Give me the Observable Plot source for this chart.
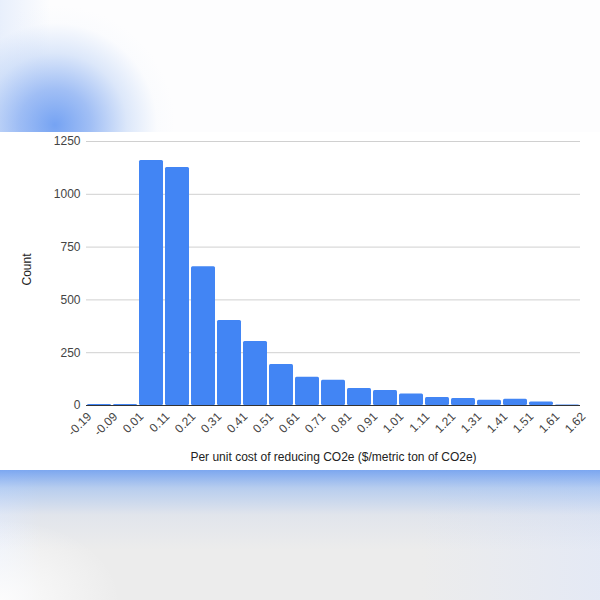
<!DOCTYPE html>
<html>
<head>
<meta charset="utf-8">
<script src="https://cdn.jsdelivr.net/npm/d3@7"></script>
<script src="https://cdn.jsdelivr.net/npm/@observablehq/plot@0.6"></script>
<style>
  html, body { margin: 0; padding: 0; }
  body { width: 600px; height: 600px; position: relative; overflow: hidden; background: #fff;
         font-family: "Liberation Sans", Arial, sans-serif; }
  #top { position: absolute; left: 0; top: 0; width: 600px; height: 132px;
    background:
      radial-gradient(ellipse 120px 120px at 55px 125px, rgba(110,158,242,0.95) 0%, rgba(130,170,242,0.75) 30%, rgba(180,205,245,0.45) 60%, rgba(235,242,252,0.15) 85%, rgba(255,255,255,0) 100%),
      linear-gradient(to right, rgba(215,228,250,0.55) 0px, rgba(255,255,255,0) 50px),
      #fdfdfe; }
  #bottom { position: absolute; left: 0; top: 470px; width: 600px; height: 130px;
    background:
      radial-gradient(ellipse 120px 80px at 0px 130px, rgba(252,252,252,1) 0%, rgba(252,252,252,0) 100%),
      linear-gradient(to bottom, rgba(105,155,240,0.85) 0px, rgba(140,180,240,0.55) 18px, rgba(200,212,235,0.3) 45px, rgba(230,230,232,0) 80px),
      linear-gradient(to right, rgba(235,240,250,0.9) 0px, rgba(235,240,250,0) 40px, rgba(235,240,250,0) 420px, rgba(225,232,248,0.7) 600px),
      #ececec; }
  #panel { position: absolute; left: 0; top: 132px; width: 600px; height: 338px; background: #fff; }
</style>
</head>
<body>
<div id="top"></div>
<div id="panel"></div>
<div id="bottom"></div>
<script>
// Bin lower-edge labels (20 edges for 19 bins)
const edgeLabels = ["-0.19","-0.09","0.01","0.11","0.21","0.31","0.41","0.51","0.61","0.71","0.81","0.91","1.01","1.11","1.21","1.31","1.41","1.51","1.61","1.62"];
// Count per bin
const counts = [5, 5, 1160, 1127, 657, 402, 303, 194, 134, 119, 81, 71, 55, 38, 33, 25, 30, 16, 2];
const yTicks = [0, 250, 500, 750, 1000, 1250];

const bins = counts.map((c, i) => ({x1: i, x2: i + 1, count: c}));

const chart = Plot.plot({
  width: 600,
  height: 338,
  marginTop: 9,
  marginBottom: 65,
  marginLeft: 86,
  marginRight: 20,
  style: {fontFamily: "'Liberation Sans', Arial, sans-serif", fontSize: "12px", color: "#444", background: "transparent"},
  x: {domain: [0, edgeLabels.length - 1]},
  y: {domain: [0, 1250]},
  marks: [
    Plot.gridY(yTicks, {stroke: "#d0d0d0", strokeOpacity: 1, x1: 0, x2: 19}),
    Plot.axisY({ticks: yTicks, tickFormat: d => String(d), tickSize: 0, tickPadding: 6, label: null, fontSize: "12px", fill: "#444"}),
    Plot.axisX({ticks: d3.range(edgeLabels.length), tickFormat: i => edgeLabels[i], tickRotate: -45,
                tickSize: 0, tickPadding: 9, dx: 3, label: null, fontSize: "12px", fill: "#444"}),
    Plot.ruleY([0], {stroke: "#333"}),
    Plot.rectY(bins, {x1: "x1", x2: "x2", y: "count", fill: "#4285f4", insetLeft: 1, insetRight: 1, rx: 1.5}),
    Plot.text(["Count"], {frameAnchor: "left", dx: -59, dy: 12, rotate: -90, fontSize: "12px", fill: "#222"}),
    Plot.text(["Per unit cost of reducing CO2e ($/metric ton of CO2e)"], {frameAnchor: "bottom", dy: 55, fontSize: "12px", fill: "#222"})
  ]
});
document.getElementById("panel").appendChild(chart);
</script>
</body>
</html>
